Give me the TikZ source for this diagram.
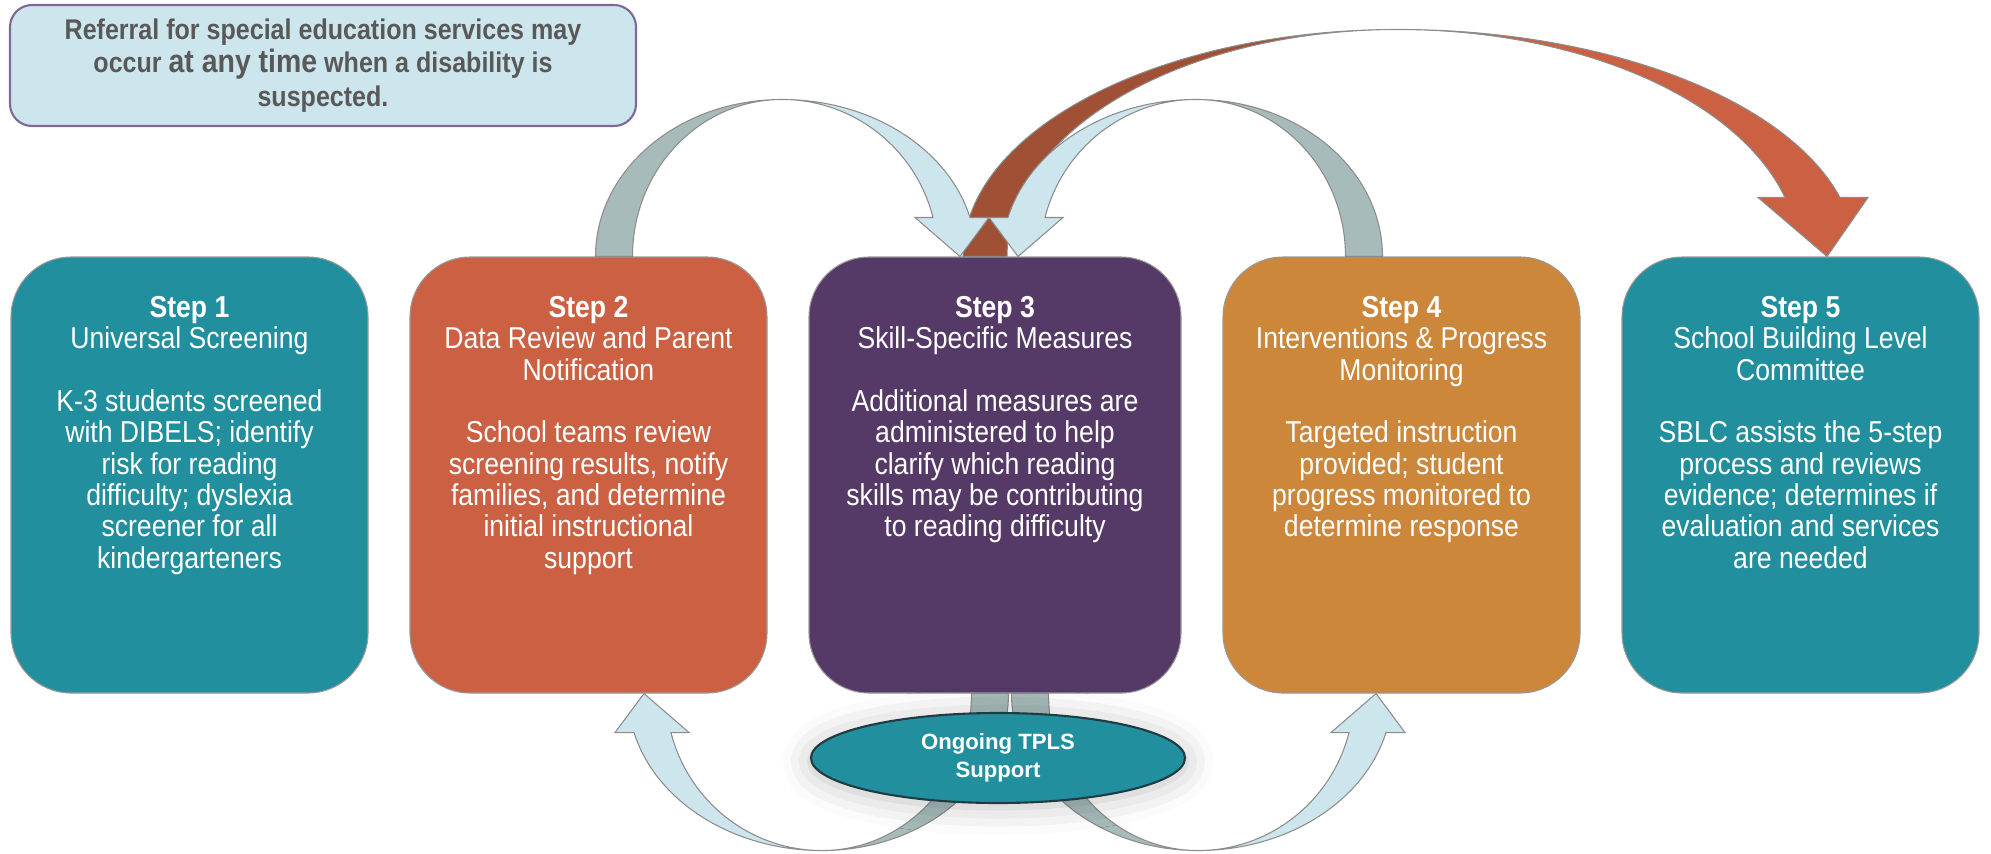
\documentclass[tikz,border=0pt]{standalone}
\usepackage{fontspec}
\setmainfont{Liberation Sans}
\newfontfamily\narrowfont{Liberation Sans}[FakeStretch=0.88]
\usetikzlibrary{shapes.geometric,shadows.blur}

\definecolor{tealstep}{RGB}{34,143,158}
\definecolor{ruststep}{RGB}{203,97,66}
\definecolor{plumstep}{RGB}{85,58,103}
\definecolor{amberstep}{RGB}{204,135,58}
\definecolor{mistblue}{RGB}{205,229,236}
\definecolor{sagegray}{RGB}{166,187,186}
\definecolor{darkrust}{RGB}{160,80,52}
\definecolor{lilacline}{RGB}{125,105,150}
\definecolor{textgray}{RGB}{89,89,89}
\definecolor{ovalline}{RGB}{30,60,66}

\tikzset{
    stepbox/.style={rectangle, rounded corners=0.6cm, minimum width=3.57cm, minimum height=4.36cm, draw=black!40, line width=0.3pt, inner sep=0pt},
    steptext/.style={anchor=north, align=center, text=white, inner sep=0pt, font=\narrowfont\fontsize{8.6}{8.93}\selectfont},
    referbox/.style={rectangle, rounded corners=0.22cm, fill=mistblue, draw=lilacline, line width=0.6pt, minimum width=6.26cm, minimum height=1.21cm, align=center, text=textgray, font=\narrowfont\bfseries\fontsize{8.1}{9.6}\selectfont},
    tplsoval/.style={ellipse, fill=tealstep, draw=ovalline, line width=0.6pt, minimum width=3.74cm, minimum height=0.9cm, inner sep=0pt, align=center, text=white, font=\bfseries\fontsize{6.3}{8}\selectfont},
    bandline/.style={draw=black!45, line width=0.3pt},
}

\begin{document}
\begin{tikzpicture}
    \useasboundingbox (0,0) rectangle (19.91,8.53);

    % Nota de derivacion
    \node[referbox] (refer) at (3.23,7.875) {Referral for special education services may\\occur {\fontsize{9.2}{9.6}\selectfont at any time} when a disability is\\suspected.};

    % Cajas de pasos
    \node[stepbox, fill=tealstep] (s1) at (1.895,3.78) {};
    \node[stepbox, fill=ruststep] (s2) at (5.885,3.78) {};
    \node[stepbox, fill=plumstep, minimum width=3.72cm] (s3) at (9.95,3.78) {};
    \node[stepbox, fill=amberstep] (s4) at (14.015,3.78) {};
    \node[stepbox, fill=tealstep] (s5) at (18.005,3.78) {};

    % Textos
    \node[steptext] (t1) at ([yshift=-0.39cm]s1.north) {\textbf{Step 1}\\Universal Screening\\[8.93pt]K-3 students screened\\with DIBELS; identify\\risk for reading\\difficulty; dyslexia\\screener for all\\kindergarteners};
    \node[steptext] (t2) at ([yshift=-0.39cm]s2.north) {\textbf{Step 2}\\Data Review and Parent\\Notification\\[8.93pt]School teams review\\screening results, notify\\families, and determine\\initial instructional\\support};
    \node[steptext] (t3) at ([yshift=-0.39cm]s3.north) {\textbf{Step 3}\\Skill-Specific Measures\\[8.93pt]Additional measures are\\administered to help\\clarify which reading\\skills may be contributing\\to reading difficulty};
    \node[steptext] (t4) at ([yshift=-0.39cm]s4.north) {\textbf{Step 4}\\Interventions \& Progress\\Monitoring\\[8.93pt]Targeted instruction\\provided; student\\progress monitored to\\determine response};
    \node[steptext] (t5) at ([yshift=-0.39cm]s5.north) {\textbf{Step 5}\\School Building Level\\Committee\\[8.93pt]SBLC assists the 5-step\\process and reviews\\evidence; determines if\\evaluation and services\\are needed};

    % Flecha grande: paso 3 -> paso 5
    \begin{scope}[shift={(s3.north)}, xshift=-0.10cm]
        \filldraw[fill=darkrust, bandline] (-0.22,0) arc[start angle=180, end angle=90, x radius=4.35, y radius=2.27] arc[start angle=90, end angle=180, x radius=3.91, y radius=2.27] -- cycle;
        \filldraw[fill=ruststep, bandline] (4.13,2.27) arc[start angle=90, end angle=15.07, x radius=4.577, y radius=2.27] -- (8.83,0.59) -- (8.42,0) -- (7.73,0.59) -- (8.00,0.59) arc[start angle=15.07, end angle=90, x radius=4.008, y radius=2.27] -- cycle;
    \end{scope}

    % Flecha: paso 2 -> paso 3
    \begin{scope}[shift={(s2.north)}, xshift=0.255cm]
        \filldraw[fill=sagegray, bandline] (-0.185,0) arc[start angle=180, end angle=90, x radius=1.865, y radius=1.57] arc[start angle=90, end angle=180, x radius=1.495, y radius=1.57] -- cycle;
        \filldraw[fill=mistblue, bandline] (1.68,1.57) arc[start angle=90, end angle=14.38, x radius=1.941, y radius=1.57] -- (3.75,0.39) -- (3.46,0) -- (3.01,0.39) -- (3.19,0.39) arc[start angle=14.38, end angle=90, x radius=1.559, y radius=1.57] -- cycle;
    \end{scope}
    % Flecha: paso 4 -> paso 3
    \begin{scope}[shift={(s4.north)}, xshift=-0.375cm, xscale=-1]
        \filldraw[fill=sagegray, bandline] (-0.185,0) arc[start angle=180, end angle=90, x radius=1.865, y radius=1.57] arc[start angle=90, end angle=180, x radius=1.495, y radius=1.57] -- cycle;
        \filldraw[fill=mistblue, bandline] (1.68,1.57) arc[start angle=90, end angle=14.38, x radius=1.941, y radius=1.57] -- (3.75,0.39) -- (3.46,0) -- (3.01,0.39) -- (3.19,0.39) arc[start angle=14.38, end angle=90, x radius=1.559, y radius=1.57] -- cycle;
    \end{scope}
    % Flecha inferior: paso 3 -> paso 2
    \begin{scope}[shift={(s3.south)}, xshift=-0.05cm, xscale=-1, yscale=-1]
        \filldraw[fill=sagegray, bandline] (-0.185,0) arc[start angle=180, end angle=90, x radius=1.865, y radius=1.57] arc[start angle=90, end angle=180, x radius=1.495, y radius=1.57] -- cycle;
        \filldraw[fill=mistblue, bandline] (1.68,1.57) arc[start angle=90, end angle=14.38, x radius=1.941, y radius=1.57] -- (3.75,0.39) -- (3.46,0) -- (3.01,0.39) -- (3.19,0.39) arc[start angle=14.38, end angle=90, x radius=1.559, y radius=1.57] -- cycle;
    \end{scope}
    % Flecha inferior: paso 3 -> paso 4
    \begin{scope}[shift={(s3.south)}, xshift=0.35cm, yscale=-1]
        \filldraw[fill=sagegray, bandline] (-0.185,0) arc[start angle=180, end angle=90, x radius=1.865, y radius=1.57] arc[start angle=90, end angle=180, x radius=1.495, y radius=1.57] -- cycle;
        \filldraw[fill=mistblue, bandline] (1.68,1.57) arc[start angle=90, end angle=14.38, x radius=1.941, y radius=1.57] -- (3.75,0.39) -- (3.46,0) -- (3.01,0.39) -- (3.19,0.39) arc[start angle=14.38, end angle=90, x radius=1.559, y radius=1.57] -- cycle;
    \end{scope}

    % Ovalo de apoyo
    \node[tplsoval, blur shadow={shadow xshift=0pt, shadow yshift=-1pt, shadow blur radius=8pt, shadow opacity=25}] (tpls) at (9.98,0.95) {Ongoing TPLS\\Support};
\end{tikzpicture}
\end{document}
